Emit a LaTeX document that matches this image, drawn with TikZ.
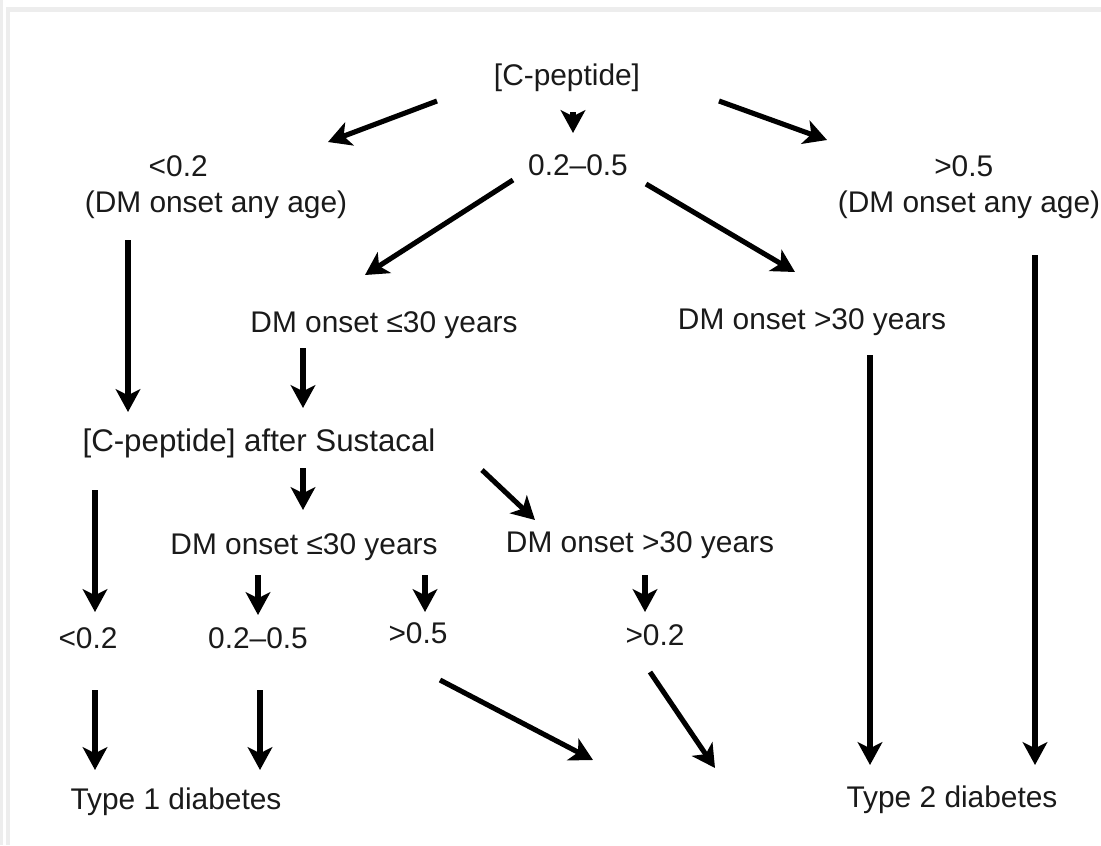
\documentclass[tikz,border=0pt]{standalone}
\usepackage{fontspec}
\setmainfont{Liberation Sans}
\usetikzlibrary{arrows.meta}
\definecolor{framegray}{HTML}{EDEDED}
\definecolor{ink}{HTML}{1A1A1A}
\begin{document}
\begin{tikzpicture}[x=0.02cm,y=-0.02cm,
  lbl/.style={inner sep=0pt,text=ink,font=\fontsize{17pt}{20.5pt}\selectfont,align=center},
  arr/.style={line width=2.9pt,draw=black,-{Stealth[length=13pt,width=14pt,inset=3.5pt]}}]
\useasboundingbox (0,0) rectangle (1101,845);
\fill[white] (0,0) rectangle (1101,845);
% frame
\fill[framegray] (0,0) rectangle (3,845);
\fill[framegray] (6,7) rectangle (1101,12);
\fill[framegray] (6,7) rectangle (10,845);
% nodes
\node[lbl] (cp)   at (567,78)  {[C-peptide]};
\node[lbl] (mid)  at (578,165) {0.2–0.5};
\node[lbl] (lo)   at (216,187) {<0.2\hspace*{43pt}\\(DM onset any age)};
\node[lbl] (hi)   at (969,187) {>0.5\hspace*{6pt}\\(DM onset any age)};
\node[lbl] (le30) at (384,325) {DM onset ≤30 years};
\node[lbl] (gt30) at (812,322) {DM onset >30 years};
\node[lbl,font=\fontsize{17.8pt}{21pt}\selectfont] (sus)  at (259,443) {[C-peptide] after Sustacal};
\node[lbl] (le30b) at (304,547) {DM onset ≤30 years};
\node[lbl] (gt30b) at (640,545) {DM onset >30 years};
\node[lbl] (ra)   at (88,638)  {<0.2};
\node[lbl] (rb)   at (258,638) {0.2–0.5};
\node[lbl] (rc)   at (418,633) {>0.5};
\node[lbl] (rd)   at (655,635) {>0.2};
\node[lbl] (t1)   at (176,802) {Type 1 diabetes};
\node[lbl] (t2)   at (952,800) {Type 2 diabetes};
\coordinate (x1) at (593,760);
\coordinate (x2) at (715,768);
% connectors
\draw[arr] ([shift={(-130,23)}]cp.center) -- ([shift={(112,-45)}]lo.center);
\draw[arr] ([shift={(6,34)}]cp.center) -- ([shift={(-5,-32)}]mid.center);
\draw[arr] ([shift={(152,23)}]cp.center) -- ([shift={(-142,-47)}]hi.center);
\draw[arr] ([shift={(-65,15)}]mid.center) -- ([shift={(-19,-50)}]le30.center);
\draw[arr] ([shift={(68,19)}]mid.center) -- ([shift={(-17,-50)}]gt30.center);
\draw[arr] ([shift={(-88,53)}]lo.center) -- ([shift={(-131,-31)}]sus.center);
\draw[arr] ([shift={(66,68)}]hi.center) -- ([shift={(83,-35)}]t2.center);
\draw[arr] ([shift={(-81,23)}]le30.center) -- ([shift={(44,-35)}]sus.center);
\draw[arr] ([shift={(58,33)}]gt30.center) -- ([shift={(-82,-35)}]t2.center);
\draw[arr] ([shift={(-164,47)}]sus.center) -- ([shift={(7,-26)}]ra.center);
\draw[arr] ([shift={(44,25)}]sus.center) -- ([shift={(-1,-37)}]le30b.center);
\draw[arr] ([shift={(223,27)}]sus.center) -- ([shift={(-105,-25)}]gt30b.center);
\draw[arr] ([shift={(-46,28)}]le30b.center) -- ([shift={(0,-23)}]rb.center);
\draw[arr] ([shift={(121,28)}]le30b.center) -- ([shift={(7,-21)}]rc.center);
\draw[arr] ([shift={(5,30)}]gt30b.center) -- ([shift={(-10,-23)}]rd.center);
\draw[arr] ([shift={(7,52)}]ra.center) -- ([shift={(-81,-32)}]t1.center);
\draw[arr] ([shift={(2,52)}]rb.center) -- ([shift={(84,-32)}]t1.center);
\draw[arr] ([shift={(22,47)}]rc.center) -- (x1);
\draw[arr] ([shift={(-5,37)}]rd.center) -- (x2);
\end{tikzpicture}
\end{document}
